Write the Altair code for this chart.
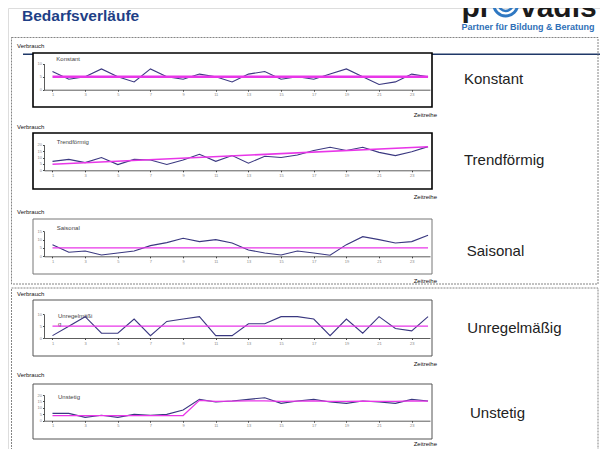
import altair as alt
import pandas as pd

# ---------------- data ----------------
periods = list(range(1, 25))
x_tick_labels = periods

konstant = [7, 4, 5, 8, 5, 3, 8, 5, 4, 6, 5, 3, 6, 7, 4, 5, 4, 6, 8, 5, 2, 3, 6, 5]
konstant_ref_x = [1, 24]
konstant_ref_y = [5, 5]

trend = [7, 8.5, 6, 10, 4.5, 8.5, 8, 4.5, 8, 12.5, 7, 11.5, 5.5, 11, 10, 12,
         15.5, 18, 15.5, 18, 14, 11.5, 14.5, 18.5]
trend_ref_x = [1, 24]
trend_ref_y = [4.7, 18.4]

saison = [7, 2.4, 3.2, 0.8, 2, 3.2, 6.4, 8.2, 10.8, 8.8, 10, 8, 3.8, 2, 0.8,
          3.2, 2, 0.6, 7, 11.8, 10, 8, 8.8, 12.6]
saison_ref_x = [1, 24]
saison_ref_y = [5, 5]

unregel = [1, 5, 9, 2, 2, 8, 1, 7, 8, 9, 1, 1, 6, 6, 9, 9, 8, 1, 8, 2, 9, 4, 3, 9]
unregel_ref_x = [1, 24]
unregel_ref_y = [5, 5]

unstetig = [5.7, 5.7, 2.6, 4.2, 2.6, 4.9, 4.2, 4.9, 8.3, 16.6, 14.5, 15.3, 16.6,
            17.9, 13.5, 15.3, 16.6, 14.5, 13.5, 15.3, 14.5, 13.5, 16.6, 15.3]
unstetig_ref_x = periods
unstetig_ref_y = [4, 4, 4, 4, 4, 4, 4, 4, 4, 15.8, 15, 15.3, 15.5, 15.5, 15,
                  15.3, 15.5, 15, 15, 15.3, 15, 15, 15.5, 15.3]

# ---------------- layout ----------------
W, H = 592, 441
M = 8  # page margin
FONT = "Liberation Sans"
BLUE_LINE = "#3a3880"
MAGENTA = "#e836e8"

one = pd.DataFrame({"k": [0]})


def c(v):
    return v - M


def label(text, x, y, size, color="#222", align="left", weight="normal",
          baseline="middle", font=FONT, **kw):
    return alt.Chart(one).mark_text(
        text=text, align=align, baseline=baseline, fontSize=size, color=color,
        fontWeight=weight, font=font, **kw
    ).encode(x=alt.value(c(x)), y=alt.value(c(y)))


def rect(x1, y1, x2, y2, stroke, width, fill="transparent", dash=None):
    kw = dict(stroke=stroke, strokeWidth=width, fill=fill)
    if dash:
        kw["strokeDash"] = dash
    return alt.Chart(one).mark_rect(**kw).encode(
        x=alt.value(c(x1)), x2=alt.value(c(x2)),
        y=alt.value(c(y1)), y2=alt.value(c(y2)))


def hline(x1, x2, y, color, width):
    return alt.Chart(one).mark_rule(color=color, strokeWidth=width).encode(
        x=alt.value(c(x1)), x2=alt.value(c(x2)), y=alt.value(c(y)))


def ring(x, y, d, color, width, filled=False):
    if filled:
        m = alt.Chart(one).mark_point(shape="circle", filled=True, size=d * d,
                                      color=color, opacity=1)
    else:
        m = alt.Chart(one).mark_point(shape="circle", filled=False, size=d * d,
                                      color=color, strokeWidth=width, opacity=1)
    return m.encode(x=alt.value(c(x)), y=alt.value(c(y)))


AXIS_STYLE = dict(title=None, grid=False, labelFontSize=4, labelColor="#888",
                  tickSize=1.5, tickColor="#444", domainColor="#333",
                  domainWidth=0.8, labelFont=FONT, zindex=2, labelOverlap=False,
                  labelSeparation=0)


def panel(vals, ref_x, ref_y, ymax, yticks, axis_y, top_y, ref_w):
    df = pd.DataFrame({"Zeitreihe": periods, "Verbrauch": vals})
    dref = pd.DataFrame({"Zeitreihe": ref_x, "Verbrauch": ref_y})
    xenc = alt.X(
        "Zeitreihe:Q",
        scale=alt.Scale(domain=[0.48, 24.12], range=[c(44), c(430)], nice=False, zero=False),
        axis=alt.Axis(orient="bottom", offset=c(axis_y) - H, values=x_tick_labels,
                      labelPadding=1.5, labelFlush=False, **AXIS_STYLE),
    )
    yenc = alt.Y(
        "Verbrauch:Q",
        scale=alt.Scale(domain=[0, ymax], range=[c(axis_y), c(top_y)], nice=False, zero=True),
        axis=alt.Axis(orient="left", offset=-c(44), values=yticks, labelPadding=1,
                      **AXIS_STYLE),
    )
    ref = alt.Chart(dref).mark_line(color=MAGENTA, strokeWidth=ref_w).encode(
        x=alt.X("Zeitreihe:Q", axis=alt.Axis(**AXIS_STYLE)),
        y=alt.Y("Verbrauch:Q", axis=alt.Axis(**AXIS_STYLE)))
    line = alt.Chart(df).mark_line(color=BLUE_LINE, strokeWidth=1.1).encode(x=xenc, y=yenc)
    return alt.layer(line, ref)


layers = []

# header
layers.append(hline(23, 608, 54.3, "#1f3868", 1.5))
layers.append(label("Bedarfsverläufe", 22, 15.5, 15.5, color="#1e3f86", weight="bold"))
layers.append(label("pr", 461.5, 16.5, 30, color="#1b1b1b", weight="bold", baseline="alphabetic"))
layers.append(label("vadis", 520, 16.5, 30, color="#1b1b1b", weight="bold", baseline="alphabetic"))
layers.append(ring(505.7, 4, 24, "#2f78c2", 3))
layers.append(ring(505.7, 4, 14, "#2f78c2", 2.5))
layers.append(ring(505.7, 4, 6, "#2f78c2", 0, filled=True))
layers.append(label("Partner für Bildung & Beratung", 461.5, 26.8, 9, color="#2f6fb7", weight="bold"))

# dashed group frames
layers.append(rect(11.5, 37.5, 598, 284, "#666", 0.8, dash=[2, 1]))
layers.append(rect(11.5, 288, 598, 453, "#666", 0.8, dash=[2, 1]))

# panel frames
layers.append(rect(33, 53, 432, 107, "#000", 1.6, fill="white"))
layers.append(rect(33, 133, 432, 189, "#000", 1.6, fill="white"))
layers.append(rect(33, 219, 432, 274, "#777", 1.0, fill="white"))
layers.append(rect(33, 300, 432, 356, "#555", 1.0, fill="white"))
layers.append(rect(33, 384, 432, 439, "#555", 1.0, fill="white"))

# Verbrauch / Zeitreihe labels
for vy in [46, 126.7, 211.7, 294.3, 375]:
    layers.append(label("Verbrauch", 17, vy, 6, color="#111"))
for zy in [115, 197.3, 281, 364.3, 444.3]:
    layers.append(label("Zeitreihe", 437, zy, 6, color="#111", align="right"))

# inner titles
layers.append(label("Konstant", 56.3, 58.7, 6, color="#444"))
layers.append(label("Trendförmig", 56.7, 142, 6, color="#444"))
layers.append(label("Saisonal", 56.7, 228, 6, color="#444"))
layers.append(label(["Unregelmäßi", "g"], 58, 315.9, 6, color="#444", lineHeight=8.3))
layers.append(label("Unstetig", 58, 397.3, 6, color="#444"))

# right side labels
layers.append(label("Konstant", 464, 79.3, 15, color="#222"))
layers.append(label("Trendförmig", 464, 160, 15, color="#222"))
layers.append(label("Saisonal", 466.7, 250.7, 15, color="#222"))
layers.append(label("Unregelmäßig", 467.3, 328.3, 15, color="#222"))
layers.append(label("Unstetig", 470, 412.7, 15, color="#222"))

# data panels
layers.append(panel(konstant, konstant_ref_x, konstant_ref_y, 10, [0, 5, 10], 89.7, 63.7, 2.6))
layers.append(panel(trend, trend_ref_x, trend_ref_y, 20, [0, 5, 10, 15, 20], 170.3, 144.7, 1.6))
layers.append(panel(saison, saison_ref_x, saison_ref_y, 15, [0, 5, 10, 15], 256.3, 231.3, 1.2))
layers.append(panel(unregel, unregel_ref_x, unregel_ref_y, 10, [0, 5, 10], 338, 314.3, 1.2))
layers.append(panel(unstetig, unstetig_ref_x, unstetig_ref_y, 20, [0, 5, 10, 15, 20], 420.7, 395, 1.2))

chart = alt.layer(*layers).resolve_scale(
    x="independent", y="independent"
).resolve_axis(
    x="independent", y="independent"
).properties(
    width=W, height=H, padding=0,
    autosize=alt.AutoSizeParams(type="none"),
).configure_view(strokeWidth=0).configure(font=FONT).configure_axis(
    labelOverlap=False, labelSeparation=0
)

chart.save("out.html", embed_options={"renderer": "svg", "actions": False})
